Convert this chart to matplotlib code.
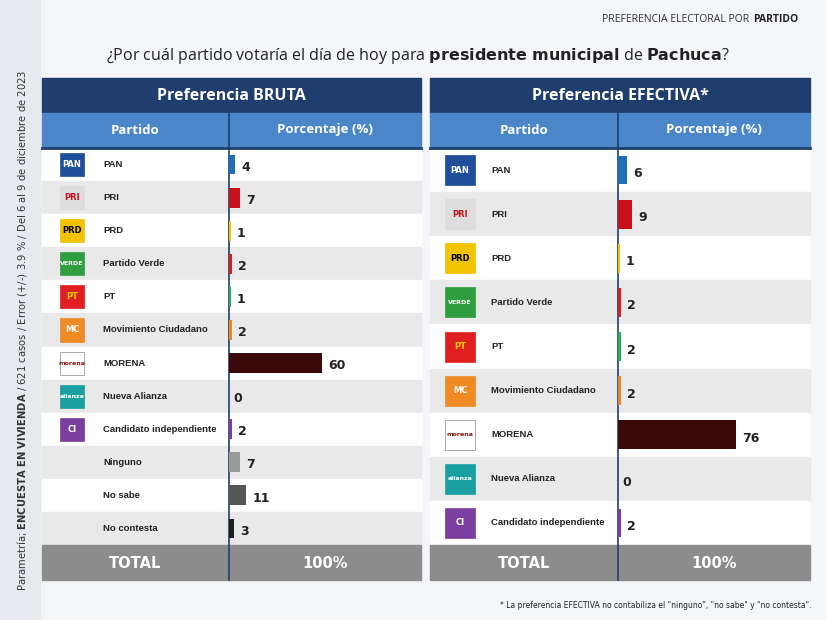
import matplotlib
matplotlib.use("Agg")
import matplotlib.pyplot as plt
from matplotlib.patches import Rectangle

bruta_parties = ["PAN", "PRI", "PRD", "Partido Verde", "PT", "Movimiento Ciudadano",
                 "MORENA", "Nueva Alianza", "Candidato independiente", "Ninguno", "No sabe", "No contesta"]
bruta_values = [4, 7, 1, 2, 1, 2, 60, 0, 2, 7, 11, 3]
efect_parties = ["PAN", "PRI", "PRD", "Partido Verde", "PT", "Movimiento Ciudadano",
                 "MORENA", "Nueva Alianza", "Candidato independiente"]
efect_values = [6, 9, 1, 2, 2, 2, 76, 0, 2]

bar_colors = {"PAN": "#1E6FB8", "PRI": "#C8101A", "PRD": "#F2C300", "Partido Verde": "#D32020",
              "PT": "#2DAA5A", "Movimiento Ciudadano": "#E8862A", "MORENA": "#3A0A0A",
              "Nueva Alianza": "#1AA0A0", "Candidato independiente": "#7B3FA0",
              "Ninguno": "#9A9A9A", "No sabe": "#555555", "No contesta": "#222222"}
logo = {"PAN": ("#1F4E9A", "PAN", "white"), "PRI": ("#DDDDDD", "PRI", "#C8101A"),
        "PRD": ("#F2C300", "PRD", "black"), "Partido Verde": ("#2E9E3E", "VERDE", "white"),
        "PT": ("#E02020", "PT", "#F5D000"), "Movimiento Ciudadano": ("#F08A24", "MC", "white"),
        "MORENA": ("#FFFFFF", "morena", "#8B1A1A"), "Nueva Alianza": ("#1AA0A0", "alianza", "white"),
        "Candidato independiente": ("#7B3FA0", "CI", "white")}

fig = plt.figure(figsize=(8.26, 6.2), dpi=100)
bg = fig.add_axes([0, 0, 1, 1])
bg.set_xlim(0, 826); bg.set_ylim(620, 0); bg.axis("off")
bg.add_patch(Rectangle((0, 0), 826, 620, color="#F4F6F9", zorder=0))
bg.add_patch(Rectangle((0, 0), 40, 620, color="#E6EAEE", zorder=0))

bg.text(752, 19, "PREFERENCIA ELECTORAL POR ", ha="right", va="center", fontsize=7.5, color="#333",
        fontfamily="Open Sans")
bg.text(753, 19, "PARTIDO", ha="left", va="center", fontsize=7.5, color="#222", fontweight="bold",
        fontfamily="Open Sans")
bg.text(418, 56, "¿Por cuál partido votaría el día de hoy para $\\bf{presidente\\ municipal}$ de $\\bf{Pachuca}$?",
        ha="center", va="center", fontsize=11.5, color="#222", fontfamily="Open Sans")
bg.text(22, 330, "Parametría; $\\bf{ENCUESTA\\ EN\\ VIVIENDA}$ / 621 casos / Error (+/-) 3.9 % / Del 6 al 9 de diciembre de 2023",
        rotation=90, ha="center", va="center", fontsize=7.2, color="#333")
bg.text(812, 606, "* La preferencia EFECTIVA no contabiliza el \"ninguno\", \"no sabe\" y \"no contesta\".",
        ha="right", va="center", fontsize=5.5, color="#222")

def table(x0, x1, xd, title, parties, values, rowtop, rowbot, barh):
    bg.add_patch(Rectangle((x0, 78), x1 - x0, 35, color="#1F3E6E", zorder=1))
    bg.text((x0 + x1) / 2, 96, title, ha="center", va="center", color="white", fontsize=11.5,
            fontweight="bold", fontfamily="Open Sans")
    bg.add_patch(Rectangle((x0, 113), x1 - x0, 35, color="#4A86C8", zorder=1))
    bg.text((x0 + xd) / 2, 130, "Partido", ha="center", va="center", color="white", fontsize=9.5,
            fontweight="bold", fontfamily="Open Sans")
    bg.text((xd + x1) / 2, 130, "Porcentaje (%)", ha="center", va="center", color="white", fontsize=9.5,
            fontweight="bold", fontfamily="Open Sans")
    bg.plot([x0, x1], [148, 148], color="#1F3E6E", lw=2, zorder=3)
    n = len(parties)
    h = (rowbot - rowtop) / n
    for i, p in enumerate(parties):
        y = rowtop + i * h
        bg.add_patch(Rectangle((x0, y), x1 - x0, h, color="#FFFFFF" if i % 2 == 0 else "#E9E9E9", zorder=1))
        bg.text(x0 + 61, y + h / 2, p, ha="left", va="center", fontsize=6.8, fontweight="bold",
                color="#222", zorder=2, fontfamily="Liberation Sans")
        if p in logo:
            c, t, tc = logo[p]
            s = min(h - 10, 30)
            bg.add_patch(Rectangle((x0 + 30 - s / 2, y + h / 2 - s / 2), s, s, color=c, zorder=2,
                                   ec="#888" if c == "#FFFFFF" else c, lw=0.5))
            bg.text(x0 + 30, y + h / 2, t, ha="center", va="center", fontsize=4.5 if len(t) > 3 else 6,
                    fontweight="bold", color=tc, zorder=3)
    bg.add_patch(Rectangle((x0, rowbot), x1 - x0, 35, color="#8C8C8C", zorder=1))
    bg.text((x0 + xd) / 2, rowbot + 18, "TOTAL", ha="center", va="center", color="white", fontsize=10.5,
            fontweight="bold")
    bg.text((xd + x1) / 2, rowbot + 18, "100%", ha="center", va="center", color="white", fontsize=10.5,
            fontweight="bold")
    bg.plot([xd, xd], [113, rowbot + 35], color="#1F3E6E", lw=1.2, zorder=3)
    ax = fig.add_axes([xd / 826, 1 - rowbot / 620, (x1 - xd) / 826, (rowbot - rowtop) / 620])
    ax.set_xlim(0, 124); ax.set_ylim(n - 0.5, -0.5); ax.axis("off"); ax.patch.set_alpha(0)
    ypos = list(range(n))
    ax.barh(ypos, values, height=barh, color=[bar_colors[p] for p in parties], zorder=2)
    for yy, v in zip(ypos, values):
        ax.text(v + 4 if v > 0 else 3, yy + 0.08, str(v), va="center", ha="left", fontsize=9,
                fontweight="bold", color="#222")

table(42, 421, 229, "Preferencia BRUTA", bruta_parties, bruta_values, 148, 545, 0.6)
table(430, 810, 618, "Preferencia EFECTIVA*", efect_parties, efect_values, 148, 545, 0.65)

fig.savefig("out.png", dpi=100)
